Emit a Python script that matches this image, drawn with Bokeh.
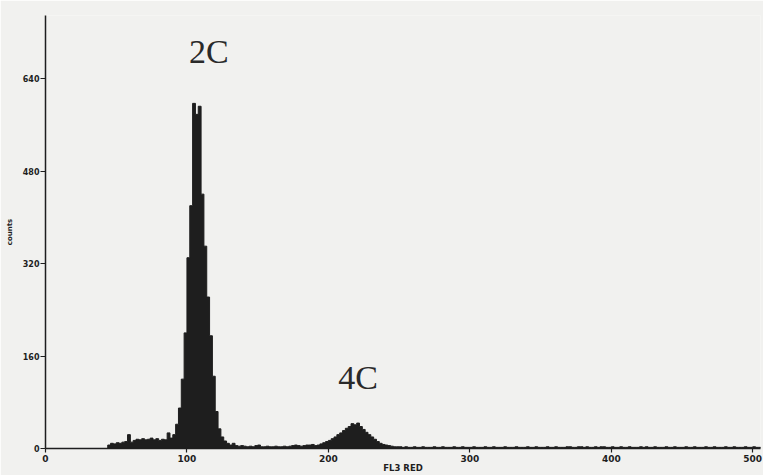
import numpy as np
from bokeh.plotting import figure
from bokeh.models import Range1d, FixedTicker, ColumnDataSource
from bokeh.core.properties import value
from bokeh.embed import file_html
from bokeh.resources import INLINE

# Histogram of FL3 RED channel, bin width 2 channels, starting at channel 0
bin_width = 2
counts_0_42 = [0] * 22
counts_44_88 = [6, 9, 8, 10, 9, 11, 12, 24, 11, 14, 16, 15, 17, 15, 16, 18, 15, 17, 14, 16, 15, 27, 18]
counts_90_130 = [24, 42, 70, 120, 200, 330, 420, 597, 578, 592, 440, 350, 262, 195, 125, 64, 34, 20, 13, 9, 6]
counts_132_188 = [9, 5, 4, 5, 4, 3, 4, 3, 5, 6, 3, 3, 4, 3, 3, 4, 3, 3, 4, 3, 4, 5, 6, 5, 4, 5, 6, 6, 7]
counts_190_248 = [5, 6, 8, 10, 12, 14, 17, 20, 24, 27, 31, 35, 38, 43, 41, 44, 38, 33, 28, 24, 20, 16, 12, 9, 7, 6, 5, 4, 3, 3]
counts_250_504 = [3, 2, 3, 2, 2, 3, 2, 2, 3, 2, 2, 2, 3, 2, 2, 3, 2, 2, 2, 3,
                  2, 2, 3, 2, 2, 2, 3, 2, 2, 2, 3, 2, 2, 3, 2, 2, 2, 3, 2, 2,
                  2, 3, 2, 2, 2, 3, 2, 2, 3, 2, 2, 2, 3, 2, 2, 3, 2, 2, 2, 3,
                  3, 2, 2, 3, 3, 2, 3, 2, 2, 3, 2, 3, 3, 2, 2, 3, 2, 2, 3, 2,
                  2, 3, 2, 2, 2, 3, 2, 3, 2, 2, 3, 2, 2, 2, 3, 2, 2, 3, 2, 2,
                  2, 3, 2, 2, 3, 2, 2, 2, 3, 2, 2, 3, 2, 2, 2, 3, 2, 2, 3, 2,
                  2, 2, 3, 2, 2, 3, 2, 2]

y_ticks = [0, 160, 320, 480, 640]
x_ticks = [0, 100, 200, 300, 400, 500]
peak_labels = ["2C", "4C"]
peak_label_x = [115.5, 221]
peak_label_y = [686, 123]

counts = np.array(counts_0_42 + counts_44_88 + counts_90_130 + counts_132_188 + counts_190_248 + counts_250_504, dtype=float)
edges = np.arange(len(counts) + 1) * bin_width
step_y = np.append(counts, counts[-1])

ink = "#1e1e1e"
bg = "#f1f1ef"

p = figure(width=763, height=475, output_backend="svg", toolbar_location=None,
           x_range=Range1d(0, 505.5), y_range=Range1d(0, 749),
           min_border_left=45, min_border_right=3, min_border_top=15, min_border_bottom=27)
p.background_fill_color = bg
p.border_fill_color = bg
p.outline_line_color = None
p.grid.visible = False

src = ColumnDataSource(dict(x=edges, y1=np.zeros_like(step_y), y2=step_y))
p.varea_step(x="x", y1="y1", y2="y2", step_mode="after", source=src, fill_color=ink)
p.step(x="x", y="y2", mode="after", source=src, line_color=ink, line_width=1)

p.text(x=peak_label_x, y=peak_label_y, text=peak_labels, text_align="center",
       text_baseline="middle", text_font=value("Liberation Serif"),
       text_font_size="34px", text_color="#2a2a2a")

for ax in (p.xaxis[0], p.yaxis[0]):
    ax.axis_line_color = ink
    ax.axis_line_width = 1.5
    ax.major_tick_line_color = ink
    ax.major_tick_line_width = 1.2
    ax.minor_tick_line_color = None
    ax.major_label_text_color = ink
    ax.major_label_text_font = "DejaVu Sans"
    ax.major_label_text_font_style = "bold"

p.xaxis.ticker = FixedTicker(ticks=x_ticks)
p.yaxis.ticker = FixedTicker(ticks=y_ticks)
p.xaxis.major_tick_in = 0
p.xaxis.major_tick_out = 4
p.xaxis.major_label_standoff = 2
p.xaxis.major_label_text_font_size = "9px"
p.yaxis.major_tick_in = 0
p.yaxis.major_tick_out = 5
p.yaxis.major_label_standoff = 1
p.yaxis.major_label_text_font_size = "8px"

p.xaxis.axis_label = "FL3 RED"
p.xaxis.axis_label_text_font = "DejaVu Sans"
p.xaxis.axis_label_text_font_style = "bold"
p.xaxis.axis_label_text_font_size = "8.5px"
p.xaxis.axis_label_text_color = ink
p.xaxis.axis_label_standoff = -2

p.yaxis.axis_label = "counts"
p.yaxis.axis_label_text_font = "DejaVu Sans"
p.yaxis.axis_label_text_font_style = "bold"
p.yaxis.axis_label_text_font_size = "7px"
p.yaxis.axis_label_text_color = ink
p.yaxis.axis_label_standoff = 6

open("out.html", "w").write(file_html(p, INLINE))
